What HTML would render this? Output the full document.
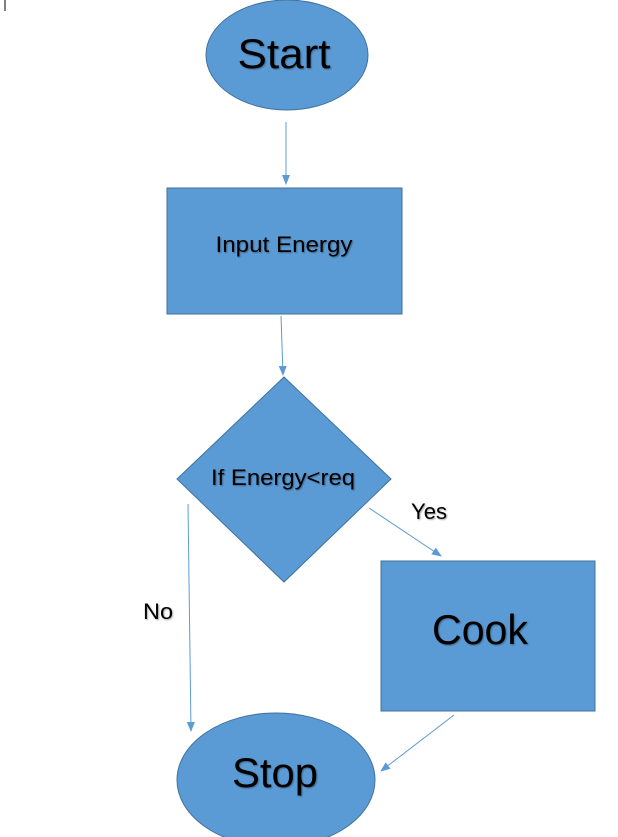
<!DOCTYPE html>
<html><head><style>
html,body{margin:0;padding:0;background:#fff;width:618px;height:837px;overflow:hidden}
text{font-family:"Liberation Sans",sans-serif;fill:#000}
</style></head><body>
<svg width="618" height="837" xmlns="http://www.w3.org/2000/svg">
<defs>
<marker id="a" markerWidth="10" markerHeight="8" refX="9" refY="4" orient="auto" markerUnits="userSpaceOnUse">
<path d="M0,0 L10,4 L0,8 z" fill="#5b9bd5"/></marker>
<filter id="s"><feDropShadow dx="1" dy="1" stdDeviation="0.8" flood-color="#000" flood-opacity="0.35"/></filter>
</defs>
<line x1="5" y1="0" x2="5" y2="11" stroke="#000" stroke-width="1"/>
<g fill="#5b9bd5" stroke="#41719c" stroke-width="1">
<ellipse cx="287" cy="55" rx="81" ry="55"/>
<rect x="167" y="188" width="235" height="126"/>
<polygon points="284,377 391,479 284,582 177,479"/>
<rect x="381" y="561" width="214" height="150"/>
<ellipse cx="276" cy="780" rx="99" ry="67"/>
</g>
<g stroke="#5b9bd5" stroke-width="1" fill="none" marker-end="url(#a)">
<line x1="286" y1="122" x2="286" y2="184"/>
<line x1="281" y1="316" x2="283" y2="375"/>
<line x1="369" y1="508" x2="441" y2="556"/>
<line x1="188" y1="504" x2="191" y2="731"/>
<line x1="454" y1="715" x2="381" y2="771"/>
</g>
<g filter="url(#s)">
<text x="284" y="68" font-size="42" text-anchor="middle" textLength="93" lengthAdjust="spacingAndGlyphs">Start</text>
<text x="284" y="252" font-size="22" text-anchor="middle" textLength="137" lengthAdjust="spacingAndGlyphs">Input Energy</text>
<text x="283" y="485" font-size="22" text-anchor="middle" textLength="144" lengthAdjust="spacingAndGlyphs">If Energy&lt;req</text>
<text x="480" y="644" font-size="42" text-anchor="middle" textLength="96" lengthAdjust="spacingAndGlyphs">Cook</text>
<text x="275" y="787" font-size="42" text-anchor="middle" textLength="86" lengthAdjust="spacingAndGlyphs">Stop</text>
<text x="429" y="519" font-size="22" text-anchor="middle" textLength="36" lengthAdjust="spacingAndGlyphs">Yes</text>
<text x="158" y="619" font-size="22" text-anchor="middle" textLength="30" lengthAdjust="spacingAndGlyphs">No</text>
</g>
</svg>
</body></html>
